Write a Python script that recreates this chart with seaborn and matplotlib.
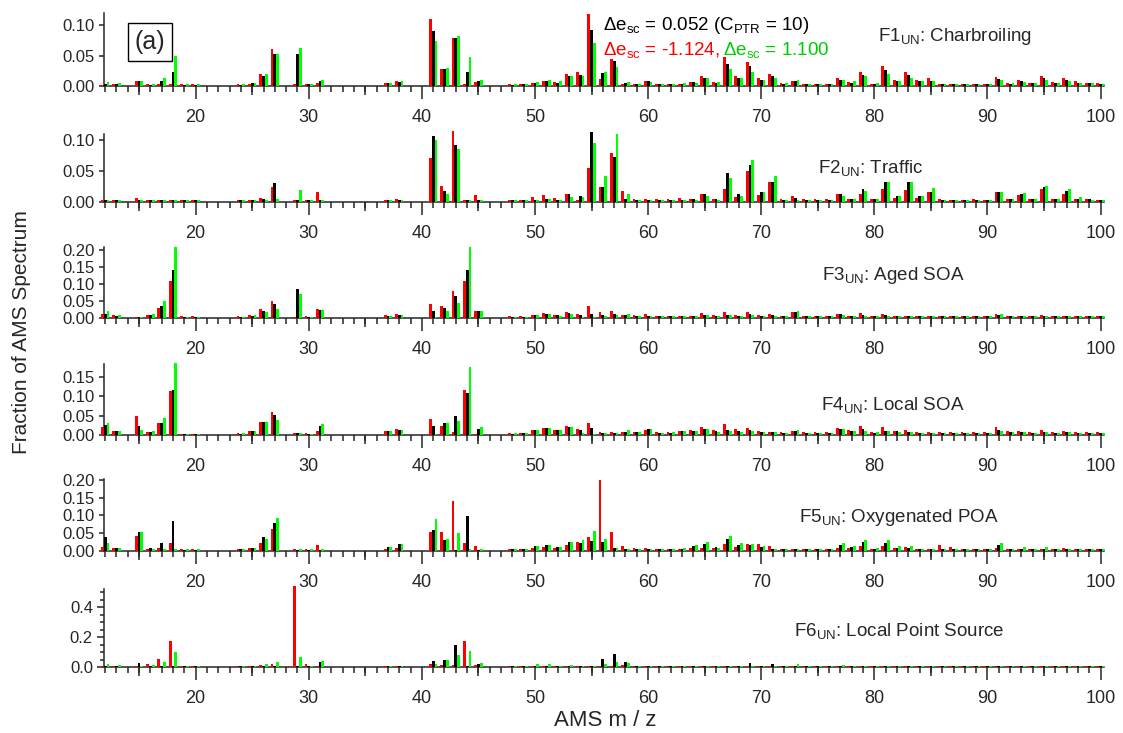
import numpy as np
import pandas as pd
import matplotlib
matplotlib.use('Agg')
import matplotlib.pyplot as plt
from matplotlib.ticker import MultipleLocator, FormatStrFormatter
import seaborn as sns

sns.set_style('ticks')
plt.rcParams['font.family'] = ['Liberation Sans', 'DejaVu Sans']
plt.rcParams['mathtext.fontset'] = 'custom'
plt.rcParams['mathtext.rm'] = 'Liberation Sans'
plt.rcParams['mathtext.it'] = 'Liberation Sans'

# m/z values that carry bars (14, 21-23, 28, 32-36, 39-40, 46-47 are not in the spectra)
mz = [12, 13, 15, 16, 17, 18, 19, 20, 24, 25, 26, 27, 29, 30, 31, 37, 38,
      41, 42, 43, 44, 45] + list(range(48, 101))

series_names = ['-1.124', '0.052', '1.100']   # delta e_sc of red, black, green
series_colors = {'-1.124': '#ff0000', '0.052': '#000000', '1.100': '#00ff00'}

#F1 Charbroiling
f1_red = [.002, .004, .009, .003, .003, .003, .003, .003, .003, .004, .020, .060, .004, .003, .006, .005, .008, .109, .028, .078, .003, .007,
          .003, .003, .006, .009, .007, .020, .023, .118, .012, .045,
          .004, .004, .009, .004, .004, .004, .007, .017, .007, .048,
          .017, .040, .013, .020, .005, .009, .004, .004, .004, .013,
          .007, .024, .004, .033, .010, .024, .010, .013, .003, .003,
          .003, .003, .003, .015, .005, .010, .005, .017, .007, .013,
          .008, .006, .005]
f1_black = [.003, .004, .008, .002, .008, .023, .002, .002, .002, .005, .017, .052, .052, .003, .008, .005, .007, .090, .028, .078, .023, .008,
            .002, .003, .006, .009, .006, .017, .018, .092, .022, .041,
            .006, .004, .009, .003, .003, .004, .007, .014, .006, .037,
            .014, .033, .011, .017, .004, .009, .003, .003, .003, .011,
            .006, .019, .004, .026, .009, .018, .008, .009, .003, .003,
            .003, .003, .003, .012, .004, .008, .005, .013, .006, .011,
            .006, .005, .004]
f1_green = [.007, .005, .008, .004, .014, .049, .003, .003, .003, .005, .020, .053, .062, .003, .011, .005, .008, .073, .030, .082, .048, .011,
            .003, .004, .007, .010, .008, .017, .017, .070, .024, .032,
            .007, .004, .007, .004, .004, .005, .006, .014, .007, .028,
            .013, .023, .010, .013, .005, .010, .003, .003, .004, .011,
            .008, .016, .005, .020, .008, .014, .008, .009, .004, .003,
            .003, .003, .003, .011, .006, .007, .005, .011, .006, .009,
            .006, .005, .004]

#F2 Traffic
f2_red = [.002, .003, .006, .003, .003, .003, .003, .003, .003, .003, .006, .024, .003, .003, .015, .003, .004, .071, .026, .114, .003, .011,
          .003, .003, .007, .011, .006, .013, .003, .055, .023, .078,
          .017, .004, .004, .004, .004, .006, .005, .012, .004, .021,
          .007, .049, .011, .031, .004, .009, .004, .004, .004, .013,
          .005, .012, .004, .020, .006, .019, .006, .015, .004, .003,
          .003, .004, .003, .015, .004, .011, .004, .020, .005, .013,
          .004, .004, .003]
f2_black = [.002, .002, .002, .002, .002, .002, .002, .002, .002, .002, .004, .030, .002, .002, .002, .002, .003, .106, .017, .091, .002, .002,
            .002, .002, .003, .005, .003, .013, .010, .112, .023, .072,
            .005, .003, .002, .002, .002, .002, .005, .013, .004, .046,
            .012, .059, .015, .032, .003, .006, .003, .002, .002, .012,
            .004, .021, .004, .031, .009, .031, .009, .016, .002, .002,
            .002, .002, .002, .015, .004, .013, .004, .024, .005, .017,
            .005, .004, .002]
f2_green = [.002, .002, .002, .002, .002, .002, .002, .002, .002, .003, .003, .005, .019, .002, .003, .002, .002, .100, .013, .085, .002, .002,
            .002, .002, .003, .005, .003, .008, .007, .095, .041, .109,
            .012, .002, .002, .002, .002, .002, .002, .010, .003, .039,
            .009, .067, .016, .042, .002, .002, .002, .002, .002, .009,
            .004, .017, .004, .031, .009, .031, .010, .022, .002, .002,
            .002, .002, .002, .015, .005, .014, .004, .026, .005, .020,
            .007, .003, .002]

#F3 Aged SOA
f3_red = [.010, .008, .003, .008, .030, .109, .004, .004, .005, .008, .026, .048, .003, .004, .025, .007, .010, .040, .034, .079, .109, .021,
          .004, .004, .009, .013, .008, .017, .012, .034, .017, .019,
          .008, .008, .011, .006, .006, .006, .006, .013, .008, .016,
          .008, .016, .008, .010, .006, .016, .006, .005, .005, .012,
          .006, .013, .006, .012, .006, .006, .006, .006, .006, .006,
          .006, .006, .006, .012, .006, .006, .006, .008, .006, .006,
          .005, .005, .005]
f3_black = [.010, .006, .002, .008, .036, .142, .002, .002, .003, .006, .021, .040, .086, .003, .022, .006, .008, .021, .030, .065, .142, .020,
            .003, .003, .008, .010, .008, .013, .008, .011, .008, .010,
            .008, .006, .006, .004, .004, .004, .004, .008, .005, .008,
            .005, .010, .005, .008, .004, .016, .004, .004, .004, .010,
            .004, .008, .004, .007, .004, .004, .004, .004, .004, .004,
            .004, .004, .004, .008, .004, .004, .004, .005, .004, .004,
            .004, .004, .004]
f3_green = [.020, .007, .003, .010, .050, .210, .003, .003, .003, .007, .016, .026, .069, .003, .022, .005, .008, .003, .020, .044, .209, .021,
            .003, .003, .008, .010, .006, .012, .003, .003, .006, .008,
            .010, .005, .005, .005, .005, .005, .005, .008, .005, .008,
            .005, .008, .005, .006, .004, .020, .004, .004, .004, .008,
            .004, .006, .004, .006, .004, .004, .004, .004, .004, .004,
            .004, .004, .004, .010, .004, .004, .004, .004, .004, .004,
            .004, .004, .004]

#F4 Local SOA
f4_red = [.020, .009, .048, .007, .030, .113, .003, .003, .005, .009, .033, .058, .004, .004, .009, .010, .016, .040, .023, .008, .117, .003,
          .004, .005, .013, .017, .012, .022, .016, .030, .008, .007,
          .007, .007, .011, .006, .007, .010, .012, .020, .012, .028,
          .014, .017, .009, .008, .007, .009, .006, .006, .006, .018,
          .012, .023, .007, .019, .010, .011, .006, .006, .006, .006,
          .006, .006, .006, .019, .009, .010, .007, .011, .007, .009,
          .006, .006, .006]
f4_black = [.025, .009, .023, .006, .030, .116, .003, .003, .003, .009, .033, .051, .004, .003, .022, .010, .012, .023, .031, .050, .108, .014,
            .003, .004, .012, .017, .011, .019, .012, .017, .004, .005,
            .007, .006, .014, .005, .005, .010, .010, .016, .009, .012,
            .010, .012, .007, .006, .005, .010, .004, .004, .004, .016,
            .009, .015, .005, .010, .009, .007, .004, .004, .004, .004,
            .004, .004, .004, .012, .007, .008, .005, .008, .005, .006,
            .004, .004, .004]
f4_green = [.030, .010, .013, .009, .044, .188, .003, .003, .004, .010, .033, .038, .004, .003, .027, .009, .012, .003, .030, .036, .177, .019,
            .004, .004, .013, .018, .012, .019, .005, .003, .004, .005,
            .011, .007, .014, .005, .006, .010, .010, .014, .007, .010,
            .007, .009, .007, .006, .005, .012, .005, .005, .005, .016,
            .009, .010, .006, .009, .007, .006, .005, .005, .005, .005,
            .005, .005, .005, .010, .006, .007, .005, .007, .005, .006,
            .004, .004, .004]

#F5 Oxygenated POA
f5_red = [.010, .007, .041, .005, .007, .022, .004, .004, .005, .007, .021, .063, .004, .004, .016, .006, .008, .054, .052, .142, .021, .012,
          .004, .004, .009, .010, .008, .016, .024, .040, .202, .053,
          .014, .007, .009, .005, .005, .005, .007, .009, .007, .020,
          .011, .019, .019, .012, .006, .006, .006, .006, .006, .007,
          .007, .012, .006, .014, .008, .010, .006, .006, .015, .010,
          .006, .006, .006, .008, .006, .006, .006, .006, .006, .008,
          .006, .006, .006]
f5_black = [.038, .007, .054, .007, .023, .085, .003, .003, .004, .008, .038, .080, .003, .003, .002, .011, .018, .058, .029, .002, .099, .003,
            .004, .004, .012, .016, .010, .024, .021, .028, .024, .009,
            .004, .004, .004, .004, .004, .004, .013, .019, .010, .032,
            .015, .015, .011, .005, .004, .004, .004, .004, .004, .016,
            .011, .024, .004, .021, .009, .008, .005, .005, .004, .005,
            .004, .004, .004, .016, .005, .005, .005, .005, .005, .005,
            .005, .005, .005]
f5_green = [.023, .007, .052, .005, .005, .004, .004, .004, .005, .008, .032, .092, .004, .004, .004, .011, .018, .089, .034, .051, .005, .004,
            .004, .004, .012, .016, .011, .026, .029, .056, .032, .009,
            .004, .004, .004, .005, .005, .008, .015, .024, .008, .042,
            .021, .018, .012, .005, .005, .005, .005, .005, .005, .021,
            .012, .029, .008, .029, .012, .012, .006, .006, .005, .005,
            .005, .005, .005, .023, .006, .010, .006, .011, .006, .006,
            .006, .006, .006]

#F6 Local Point Source
f6_red = [.005, .010, .008, .018, .055, .174, .010, .010, .010, .010, .013, .018, .541, .020, .010, .010, .010, .018, .015, .015, .176, .015,
          .010, .010, .010, .010, .010, .010, .010, .010, .010, .010,
          .012, .010, .010, .010, .010, .010, .010, .010, .010, .010,
          .010, .010, .010, .010, .010, .010, .010, .010, .010, .010,
          .010, .010, .010, .010, .010, .010, .010, .010, .010, .010,
          .010, .010, .010, .010, .010, .010, .010, .010, .010, .010,
          .010, .010, .010]
f6_black = [.005, .008, .025, .010, .010, .010, .006, .006, .006, .006, .008, .008, .010, .008, .033, .008, .008, .040, .048, .148, .010, .020,
            .006, .006, .006, .006, .006, .006, .006, .006, .055, .085,
            .035, .006, .006, .006, .006, .006, .006, .006, .006, .006,
            .006, .030, .006, .022, .006, .006, .006, .006, .006, .006,
            .006, .006, .006, .006, .006, .006, .006, .006, .006, .006,
            .006, .006, .006, .006, .006, .006, .006, .006, .006, .006,
            .006, .006, .006]
f6_green = [.020, .015, .010, .012, .035, .103, .008, .008, .008, .008, .023, .033, .070, .010, .040, .010, .010, .023, .045, .078, .108, .030,
            .010, .010, .018, .020, .010, .015, .010, .010, .020, .035,
            .030, .010, .010, .010, .010, .010, .010, .010, .010, .010,
            .010, .010, .010, .010, .010, .018, .010, .010, .010, .016,
            .010, .010, .010, .010, .010, .010, .010, .010, .010, .010,
            .010, .010, .010, .010, .010, .010, .010, .010, .010, .010,
            .010, .010, .010]

titles = [r'F1$_{\mathrm{UN}}$: Charbroiling', r'F2$_{\mathrm{UN}}$: Traffic',
          r'F3$_{\mathrm{UN}}$: Aged SOA', r'F4$_{\mathrm{UN}}$: Local SOA',
          r'F5$_{\mathrm{UN}}$: Oxygenated POA', r'F6$_{\mathrm{UN}}$: Local Point Source']
spectra = [(f1_red, f1_black, f1_green), (f2_red, f2_black, f2_green),
           (f3_red, f3_black, f3_green), (f4_red, f4_black, f4_green),
           (f5_red, f5_black, f5_green), (f6_red, f6_black, f6_green)]

W, H = 1123, 733
# per panel: baseline y (px), height (px), y max, major step, minor step, label format
layout = [(86.3, 73.7, 0.120, 0.05, None, '%.2f'),
          (201.7, 68.2, 0.110, 0.05, None, '%.2f'),
          (317.7, 71.0, 0.210, 0.05, None, '%.2f'),
          (434.7, 71.0, 0.185, 0.05, None, '%.2f'),
          (550.7, 71.5, 0.203, 0.05, None, '%.2f'),
          (667.0, 78.0, 0.520, 0.20, 0.05, '%.1f')]
title_pos = [(878, 40.7), (818, 173), (822, 280), (821, 410), (799, 522), (794, 636)]

fig = plt.figure(figsize=(W / 100, H / 100), dpi=100)
left_px, right_px = 104, 1104

for i, (red, black, green) in enumerate(spectra):
    base, hgt, ymax, major, minor, fmt = layout[i]
    ax = fig.add_axes([left_px / W, (H - base) / H, (right_px - left_px) / W, hgt / H])
    n = len(mz)
    df = pd.DataFrame({'mz': mz * 3,
                       'value': red + black + green,
                       'series': [series_names[0]] * n + [series_names[1]] * n + [series_names[2]] * n})
    sns.barplot(data=df, x='mz', y='value', hue='series', hue_order=series_names,
                palette=series_colors, native_scale=True, width=0.75, errorbar=None,
                saturation=1, legend=False, linewidth=0, zorder=3, clip_on=False, ax=ax)
    ax.set_xlim(11.9, 100.3)
    ax.set_ylim(0, ymax)
    ax.set_xlabel('')
    ax.set_ylabel('')
    sns.despine(ax=ax)
    for s in ['left', 'bottom']:
        ax.spines[s].set_linewidth(1.1)
    ax.xaxis.set_major_locator(MultipleLocator(10))
    ax.xaxis.set_minor_locator(MultipleLocator(1))
    ax.tick_params(axis='x', which='major', length=9.5, width=1.1, pad=7, labelsize=13)
    ax.tick_params(axis='x', which='minor', length=4, width=1.1)
    ax.yaxis.set_major_locator(MultipleLocator(major))
    ax.yaxis.set_major_formatter(FormatStrFormatter(fmt))
    if minor:
        ax.yaxis.set_minor_locator(MultipleLocator(minor))
        ax.tick_params(axis='y', which='major', length=5, width=1.1)
        ax.tick_params(axis='y', which='minor', length=3, width=1.1)
    else:
        ax.tick_params(axis='y', which='major', length=3.5, width=1.1)
    ax.tick_params(axis='y', labelsize=12, pad=3)
    # mid-length ticks at 15, 25, ... 95
    sec = ax.secondary_xaxis('bottom')
    sec.set_xticks(list(range(15, 100, 10)))
    sec.tick_params(length=6.5, width=1.1, labelbottom=False)
    for sp in sec.spines.values():
        sp.set_visible(False)
    tx, ty = title_pos[i]
    fig.text(tx / W, 1 - ty / H, titles[i], fontsize=13.5, ha='left', va='baseline')

# (a) panel tag
fig.text(150 / W, 1 - 42 / H, '(a)', fontsize=18, ha='center', va='center',
         bbox=dict(boxstyle='square,pad=0.28', fc='white', ec='black', lw=1))

fig.text(603 / W, 1 - 30 / H, r'$\Delta$e$_{\mathrm{sc}}$ = 0.052 (C$_{\mathrm{PTR}}$ = 10)',
         fontsize=13.5, color='black', ha='left', va='baseline')
fig.text(603 / W, 1 - 55 / H, r'$\Delta$e$_{\mathrm{sc}}$ = -1.124,',
         fontsize=13.5, color='#ff0000', ha='left', va='baseline')
fig.text(723 / W, 1 - 55 / H, r'$\Delta$e$_{\mathrm{sc}}$ = 1.100',
         fontsize=13.5, color='#00cc00', ha='left', va='baseline')

fig.text(22 / W, 1 - 332 / H, 'Fraction of AMS Spectrum', rotation=90,
         fontsize=15, ha='center', va='center')
fig.text(605 / W, 1 - 726 / H, 'AMS m / z', fontsize=16, ha='center', va='baseline')

fig.savefig('out.png', dpi=100)
